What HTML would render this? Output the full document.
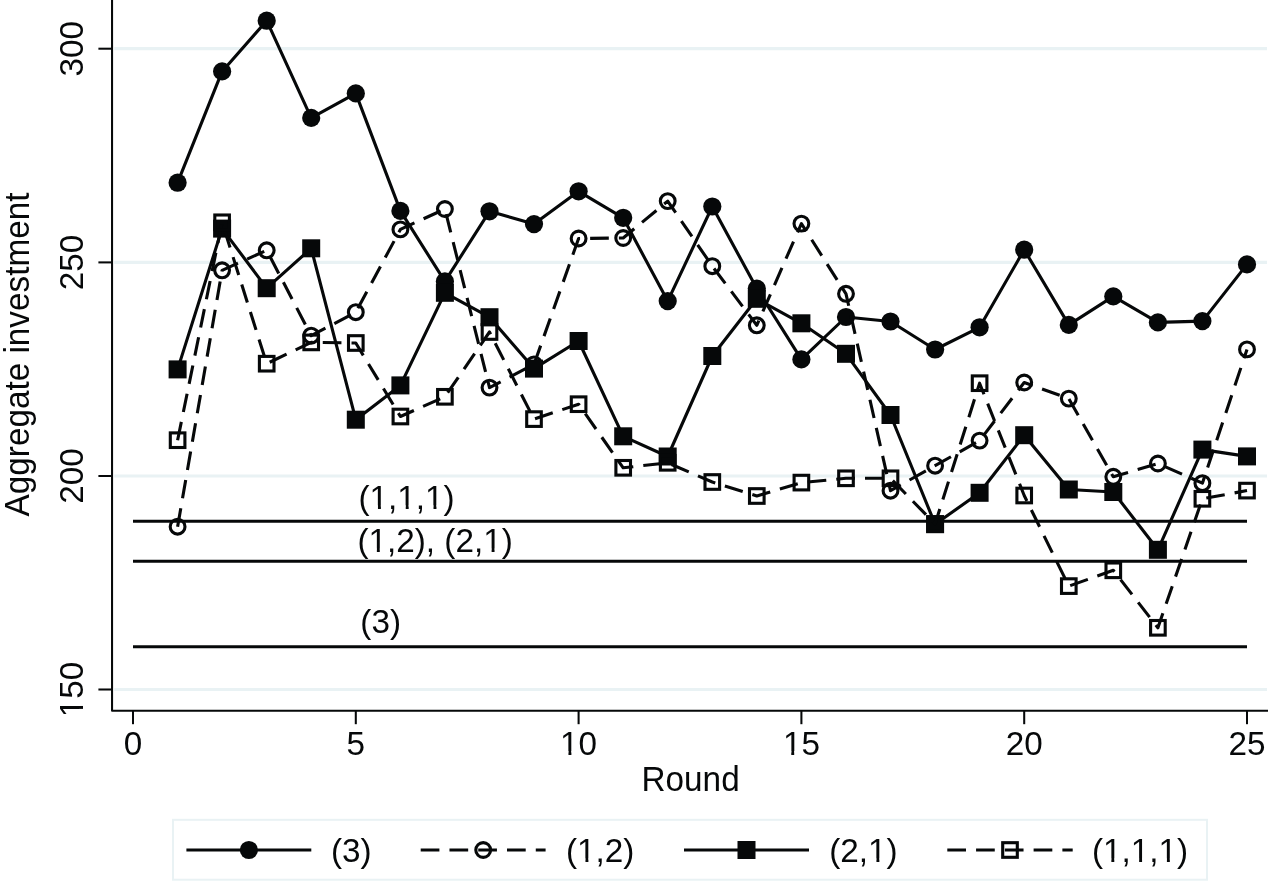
<!DOCTYPE html>
<html><head><meta charset="utf-8"><title>Aggregate investment by round</title>
<style>html,body{margin:0;padding:0;background:#fff}svg{display:block}</style></head>
<body>
<svg width="1268" height="881" viewBox="0 0 1268 881" font-family="'Liberation Sans', Arial, Helvetica, sans-serif" font-size="33.3" fill="#060809">
<rect width="1268" height="881" fill="#fff"/>
<line x1="114.2" y1="48.7" x2="1267" y2="48.7" stroke="#e9f2f4" stroke-width="3.2"/>
<line x1="114.2" y1="262.4" x2="1267" y2="262.4" stroke="#e9f2f4" stroke-width="3.2"/>
<line x1="114.2" y1="476.0" x2="1267" y2="476.0" stroke="#e9f2f4" stroke-width="3.2"/>
<line x1="114.2" y1="689.5" x2="1267" y2="689.5" stroke="#e9f2f4" stroke-width="3.2"/>
<line x1="133" y1="521.2" x2="1247" y2="521.2" stroke="#060809" stroke-width="3.1"/>
<line x1="133" y1="561.3" x2="1247" y2="561.3" stroke="#060809" stroke-width="3.1"/>
<line x1="133" y1="646.7" x2="1247" y2="646.7" stroke="#060809" stroke-width="3.1"/>
<polyline points="177.6,182.7 222.1,71.4 266.7,20.7 311.2,117.9 355.8,93.4 400.4,210.9 444.9,281.4 489.5,211.3 534.0,224.1 578.6,191.3 623.2,217.8 667.7,301.1 712.3,206.5 756.8,288.6 801.4,359.4 846.0,317 890.5,321.5 935.1,349.5 979.6,327.3 1024.2,249.7 1068.8,324.9 1113.3,296.4 1157.9,322.4 1202.4,321.1 1247.0,264.4" fill="none" stroke="#060809" stroke-width="3.1" stroke-linejoin="round"/>
<circle cx="177.6" cy="182.7" r="9.1"/>
<circle cx="222.1" cy="71.4" r="9.1"/>
<circle cx="266.7" cy="20.7" r="9.1"/>
<circle cx="311.2" cy="117.9" r="9.1"/>
<circle cx="355.8" cy="93.4" r="9.1"/>
<circle cx="400.4" cy="210.9" r="9.1"/>
<circle cx="444.9" cy="281.4" r="9.1"/>
<circle cx="489.5" cy="211.3" r="9.1"/>
<circle cx="534.0" cy="224.1" r="9.1"/>
<circle cx="578.6" cy="191.3" r="9.1"/>
<circle cx="623.2" cy="217.8" r="9.1"/>
<circle cx="667.7" cy="301.1" r="9.1"/>
<circle cx="712.3" cy="206.5" r="9.1"/>
<circle cx="756.8" cy="288.6" r="9.1"/>
<circle cx="801.4" cy="359.4" r="9.1"/>
<circle cx="846.0" cy="317" r="9.1"/>
<circle cx="890.5" cy="321.5" r="9.1"/>
<circle cx="935.1" cy="349.5" r="9.1"/>
<circle cx="979.6" cy="327.3" r="9.1"/>
<circle cx="1024.2" cy="249.7" r="9.1"/>
<circle cx="1068.8" cy="324.9" r="9.1"/>
<circle cx="1113.3" cy="296.4" r="9.1"/>
<circle cx="1157.9" cy="322.4" r="9.1"/>
<circle cx="1202.4" cy="321.1" r="9.1"/>
<circle cx="1247.0" cy="264.4" r="9.1"/>
<polyline points="177.6,526.7 222.1,270.3 266.7,250.3 311.2,335.7 355.8,312.2 400.4,229.4 444.9,209 489.5,387.6 534.0,364.4 578.6,238.5 623.2,238 667.7,201.1 712.3,266.2 756.8,325.3 801.4,223.6 846.0,293.8 890.5,490.7 935.1,465.7 979.6,440.6 1024.2,382.5 1068.8,398.6 1113.3,476.8 1157.9,463.5 1202.4,483.2 1247.0,349.4" fill="none" stroke="#060809" stroke-width="3.1" stroke-dasharray="18.7 10.07" stroke-linejoin="round"/>
<circle cx="177.6" cy="526.7" r="7.4" fill="none" stroke="#060809" stroke-width="3.1"/>
<circle cx="222.1" cy="270.3" r="7.4" fill="none" stroke="#060809" stroke-width="3.1"/>
<circle cx="266.7" cy="250.3" r="7.4" fill="none" stroke="#060809" stroke-width="3.1"/>
<circle cx="311.2" cy="335.7" r="7.4" fill="none" stroke="#060809" stroke-width="3.1"/>
<circle cx="355.8" cy="312.2" r="7.4" fill="none" stroke="#060809" stroke-width="3.1"/>
<circle cx="400.4" cy="229.4" r="7.4" fill="none" stroke="#060809" stroke-width="3.1"/>
<circle cx="444.9" cy="209" r="7.4" fill="none" stroke="#060809" stroke-width="3.1"/>
<circle cx="489.5" cy="387.6" r="7.4" fill="none" stroke="#060809" stroke-width="3.1"/>
<circle cx="534.0" cy="364.4" r="7.4" fill="none" stroke="#060809" stroke-width="3.1"/>
<circle cx="578.6" cy="238.5" r="7.4" fill="none" stroke="#060809" stroke-width="3.1"/>
<circle cx="623.2" cy="238" r="7.4" fill="none" stroke="#060809" stroke-width="3.1"/>
<circle cx="667.7" cy="201.1" r="7.4" fill="none" stroke="#060809" stroke-width="3.1"/>
<circle cx="712.3" cy="266.2" r="7.4" fill="none" stroke="#060809" stroke-width="3.1"/>
<circle cx="756.8" cy="325.3" r="7.4" fill="none" stroke="#060809" stroke-width="3.1"/>
<circle cx="801.4" cy="223.6" r="7.4" fill="none" stroke="#060809" stroke-width="3.1"/>
<circle cx="846.0" cy="293.8" r="7.4" fill="none" stroke="#060809" stroke-width="3.1"/>
<circle cx="890.5" cy="490.7" r="7.4" fill="none" stroke="#060809" stroke-width="3.1"/>
<circle cx="935.1" cy="465.7" r="7.4" fill="none" stroke="#060809" stroke-width="3.1"/>
<circle cx="979.6" cy="440.6" r="7.4" fill="none" stroke="#060809" stroke-width="3.1"/>
<circle cx="1024.2" cy="382.5" r="7.4" fill="none" stroke="#060809" stroke-width="3.1"/>
<circle cx="1068.8" cy="398.6" r="7.4" fill="none" stroke="#060809" stroke-width="3.1"/>
<circle cx="1113.3" cy="476.8" r="7.4" fill="none" stroke="#060809" stroke-width="3.1"/>
<circle cx="1157.9" cy="463.5" r="7.4" fill="none" stroke="#060809" stroke-width="3.1"/>
<circle cx="1202.4" cy="483.2" r="7.4" fill="none" stroke="#060809" stroke-width="3.1"/>
<circle cx="1247.0" cy="349.4" r="7.4" fill="none" stroke="#060809" stroke-width="3.1"/>
<polyline points="177.6,369.4 222.1,228.6 266.7,288.2 311.2,248.3 355.8,419.7 400.4,385.4 444.9,292.8 489.5,317.2 534.0,368.6 578.6,341 623.2,436.3 667.7,456.5 712.3,356 756.8,298.8 801.4,323.3 846.0,353.8 890.5,415 935.1,524.2 979.6,492.8 1024.2,435.2 1068.8,489.5 1113.3,492 1157.9,549.8 1202.4,449.6 1247.0,456.4" fill="none" stroke="#060809" stroke-width="3.1" stroke-linejoin="round"/>
<rect x="168.6" y="360.4" width="18" height="18"/>
<rect x="213.1" y="219.6" width="18" height="18"/>
<rect x="257.7" y="279.2" width="18" height="18"/>
<rect x="302.2" y="239.3" width="18" height="18"/>
<rect x="346.8" y="410.7" width="18" height="18"/>
<rect x="391.4" y="376.4" width="18" height="18"/>
<rect x="435.9" y="283.8" width="18" height="18"/>
<rect x="480.5" y="308.2" width="18" height="18"/>
<rect x="525.0" y="359.6" width="18" height="18"/>
<rect x="569.6" y="332.0" width="18" height="18"/>
<rect x="614.2" y="427.3" width="18" height="18"/>
<rect x="658.7" y="447.5" width="18" height="18"/>
<rect x="703.3" y="347.0" width="18" height="18"/>
<rect x="747.8" y="289.8" width="18" height="18"/>
<rect x="792.4" y="314.3" width="18" height="18"/>
<rect x="837.0" y="344.8" width="18" height="18"/>
<rect x="881.5" y="406.0" width="18" height="18"/>
<rect x="926.1" y="515.2" width="18" height="18"/>
<rect x="970.6" y="483.8" width="18" height="18"/>
<rect x="1015.2" y="426.2" width="18" height="18"/>
<rect x="1059.8" y="480.5" width="18" height="18"/>
<rect x="1104.3" y="483.0" width="18" height="18"/>
<rect x="1148.9" y="540.8" width="18" height="18"/>
<rect x="1193.4" y="440.6" width="18" height="18"/>
<rect x="1238.0" y="447.4" width="18" height="18"/>
<polyline points="177.6,440.2 222.1,222.3 266.7,363.7 311.2,342.4 355.8,343.0 400.4,416.5 444.9,396.8 489.5,332 534.0,419.1 578.6,404.2 623.2,467.8 667.7,462.8 712.3,482 756.8,496 801.4,482.6 846.0,478.3 890.5,478.3 935.1,524 979.6,383.2 1024.2,495.5 1068.8,586.1 1113.3,570.3 1157.9,627.8 1202.4,498.8 1247.0,490.6" fill="none" stroke="#060809" stroke-width="3.1" stroke-dasharray="18.7 10.07" stroke-linejoin="round"/>
<rect x="170.3" y="432.9" width="14.6" height="14.6" fill="none" stroke="#060809" stroke-width="3.1"/>
<rect x="214.8" y="215.0" width="14.6" height="14.6" fill="none" stroke="#060809" stroke-width="3.1"/>
<rect x="259.4" y="356.4" width="14.6" height="14.6" fill="none" stroke="#060809" stroke-width="3.1"/>
<rect x="303.9" y="335.1" width="14.6" height="14.6" fill="none" stroke="#060809" stroke-width="3.1"/>
<rect x="348.5" y="335.7" width="14.6" height="14.6" fill="none" stroke="#060809" stroke-width="3.1"/>
<rect x="393.1" y="409.2" width="14.6" height="14.6" fill="none" stroke="#060809" stroke-width="3.1"/>
<rect x="437.6" y="389.5" width="14.6" height="14.6" fill="none" stroke="#060809" stroke-width="3.1"/>
<rect x="482.2" y="324.7" width="14.6" height="14.6" fill="none" stroke="#060809" stroke-width="3.1"/>
<rect x="526.7" y="411.8" width="14.6" height="14.6" fill="none" stroke="#060809" stroke-width="3.1"/>
<rect x="571.3" y="396.9" width="14.6" height="14.6" fill="none" stroke="#060809" stroke-width="3.1"/>
<rect x="615.9" y="460.5" width="14.6" height="14.6" fill="none" stroke="#060809" stroke-width="3.1"/>
<rect x="660.4" y="455.5" width="14.6" height="14.6" fill="none" stroke="#060809" stroke-width="3.1"/>
<rect x="705.0" y="474.7" width="14.6" height="14.6" fill="none" stroke="#060809" stroke-width="3.1"/>
<rect x="749.5" y="488.7" width="14.6" height="14.6" fill="none" stroke="#060809" stroke-width="3.1"/>
<rect x="794.1" y="475.3" width="14.6" height="14.6" fill="none" stroke="#060809" stroke-width="3.1"/>
<rect x="838.7" y="471.0" width="14.6" height="14.6" fill="none" stroke="#060809" stroke-width="3.1"/>
<rect x="883.2" y="471.0" width="14.6" height="14.6" fill="none" stroke="#060809" stroke-width="3.1"/>
<rect x="927.8" y="516.7" width="14.6" height="14.6" fill="none" stroke="#060809" stroke-width="3.1"/>
<rect x="972.3" y="375.9" width="14.6" height="14.6" fill="none" stroke="#060809" stroke-width="3.1"/>
<rect x="1016.9" y="488.2" width="14.6" height="14.6" fill="none" stroke="#060809" stroke-width="3.1"/>
<rect x="1061.5" y="578.8" width="14.6" height="14.6" fill="none" stroke="#060809" stroke-width="3.1"/>
<rect x="1106.0" y="563.0" width="14.6" height="14.6" fill="none" stroke="#060809" stroke-width="3.1"/>
<rect x="1150.6" y="620.5" width="14.6" height="14.6" fill="none" stroke="#060809" stroke-width="3.1"/>
<rect x="1195.1" y="491.5" width="14.6" height="14.6" fill="none" stroke="#060809" stroke-width="3.1"/>
<rect x="1239.7" y="483.3" width="14.6" height="14.6" fill="none" stroke="#060809" stroke-width="3.1"/>
<path d="M112.05,-5 L112.05,710.7 L1273,710.7" fill="none" stroke="#060809" stroke-width="2.05" stroke-linejoin="round"/>
<line x1="98.4" y1="48.7" x2="112.05" y2="48.7" stroke="#060809" stroke-width="2.05"/>
<line x1="98.4" y1="262.4" x2="112.05" y2="262.4" stroke="#060809" stroke-width="2.05"/>
<line x1="98.4" y1="476.0" x2="112.05" y2="476.0" stroke="#060809" stroke-width="2.05"/>
<line x1="98.4" y1="689.5" x2="112.05" y2="689.5" stroke="#060809" stroke-width="2.05"/>
<line x1="133.0" y1="710.7" x2="133.0" y2="724.2" stroke="#060809" stroke-width="2.05"/>
<text transform="translate(133.0 754.5) scale(1 1.025)" text-anchor="middle">0</text>
<line x1="355.8" y1="710.7" x2="355.8" y2="724.2" stroke="#060809" stroke-width="2.05"/>
<text transform="translate(355.8 754.5) scale(1 1.025)" text-anchor="middle">5</text>
<line x1="578.6" y1="710.7" x2="578.6" y2="724.2" stroke="#060809" stroke-width="2.05"/>
<text transform="translate(578.6 754.5) scale(1 1.025)" text-anchor="middle">10</text><g transform="translate(578.6 754.5) scale(1 1.025)" fill="#fff"><rect x="-16.85" y="-3.33" width="6.71" height="4.00"/><rect x="-7.21" y="-3.33" width="6.34" height="4.00"/></g>
<line x1="801.4" y1="710.7" x2="801.4" y2="724.2" stroke="#060809" stroke-width="2.05"/>
<text transform="translate(801.4 754.5) scale(1 1.025)" text-anchor="middle">15</text><g transform="translate(801.4 754.5) scale(1 1.025)" fill="#fff"><rect x="-16.85" y="-3.33" width="6.71" height="4.00"/><rect x="-7.21" y="-3.33" width="6.34" height="4.00"/></g>
<line x1="1024.2" y1="710.7" x2="1024.2" y2="724.2" stroke="#060809" stroke-width="2.05"/>
<text transform="translate(1024.2 754.5) scale(1 1.025)" text-anchor="middle">20</text>
<line x1="1247.0" y1="710.7" x2="1247.0" y2="724.2" stroke="#060809" stroke-width="2.05"/>
<text transform="translate(1247.0 754.5) scale(1 1.025)" text-anchor="middle">25</text>
<text transform="translate(82.6 48.7) rotate(-90) scale(1 1.025)" text-anchor="middle">300</text>
<text transform="translate(82.6 262.4) rotate(-90) scale(1 1.025)" text-anchor="middle">250</text>
<text transform="translate(82.6 476.0) rotate(-90) scale(1 1.025)" text-anchor="middle">200</text>
<text transform="translate(82.6 689.5) rotate(-90) scale(1 1.025)" text-anchor="middle">150</text><g transform="translate(82.6 689.5) rotate(-90) scale(1 1.025)" fill="#fff"><rect x="-26.11" y="-3.33" width="6.71" height="4.00"/><rect x="-16.47" y="-3.33" width="6.34" height="4.00"/></g>
<text transform="translate(29.2 354.5) rotate(-90) scale(1 1.035)" text-anchor="middle">Aggregate investment</text>
<text transform="translate(690.6 790.9) scale(1 1.035)" text-anchor="middle">Round</text>
<text transform="translate(358.5 508.8) scale(1 1.025)" text-anchor="start">(1,1,1)</text><g transform="translate(358.5 508.8) scale(1 1.025)" fill="#fff"><rect x="12.75" y="-3.33" width="6.71" height="4.00"/><rect x="22.39" y="-3.33" width="6.34" height="4.00"/><rect x="40.53" y="-3.33" width="6.71" height="4.00"/><rect x="50.17" y="-3.33" width="6.34" height="4.00"/><rect x="68.30" y="-3.33" width="6.71" height="4.00"/><rect x="77.94" y="-3.33" width="6.34" height="4.00"/></g>
<text transform="translate(357.4 552) scale(1 1.025)" text-anchor="start">(1,2), (2,1)</text><g transform="translate(357.4 552) scale(1 1.025)" fill="#fff"><rect x="12.75" y="-3.33" width="6.71" height="4.00"/><rect x="22.39" y="-3.33" width="6.34" height="4.00"/><rect x="127.50" y="-3.33" width="6.71" height="4.00"/><rect x="137.14" y="-3.33" width="6.34" height="4.00"/></g>
<text transform="translate(360.3 632.9) scale(1 1.025)" text-anchor="start">(3)</text>
<rect x="173" y="819.8" width="1034" height="59.9" fill="#fff" stroke="#e9f2f4" stroke-width="2"/>
<line x1="186.4" y1="850.0" x2="311.3" y2="850.0" stroke="#060809" stroke-width="3.1"/>
<circle cx="248.9" cy="850.0" r="9.1"/>
<text transform="translate(331.0 861.9) scale(1 1.025)" text-anchor="start">(3)</text>
<line x1="420.7" y1="850.0" x2="545.6" y2="850.0" stroke="#060809" stroke-width="3.1" stroke-dasharray="18.7 10.07" stroke-linejoin="round"/>
<circle cx="483.2" cy="850.0" r="7.4" fill="none" stroke="#060809" stroke-width="3.1"/>
<text transform="translate(566.0 861.9) scale(1 1.025)" text-anchor="start">(1,2)</text><g transform="translate(566.0 861.9) scale(1 1.025)" fill="#fff"><rect x="12.75" y="-3.33" width="6.71" height="4.00"/><rect x="22.39" y="-3.33" width="6.34" height="4.00"/></g>
<line x1="684" y1="850.0" x2="809" y2="850.0" stroke="#060809" stroke-width="3.1"/>
<rect x="737.5" y="841.0" width="18" height="18"/>
<text transform="translate(829.2 861.9) scale(1 1.025)" text-anchor="start">(2,1)</text><g transform="translate(829.2 861.9) scale(1 1.025)" fill="#fff"><rect x="40.53" y="-3.33" width="6.71" height="4.00"/><rect x="50.17" y="-3.33" width="6.34" height="4.00"/></g>
<line x1="947.3" y1="850.0" x2="1072.7" y2="850.0" stroke="#060809" stroke-width="3.1" stroke-dasharray="18.7 10.07" stroke-linejoin="round"/>
<rect x="1002.7" y="842.7" width="14.6" height="14.6" fill="none" stroke="#060809" stroke-width="3.1"/>
<text transform="translate(1091.9 861.9) scale(1 1.025)" text-anchor="start">(1,1,1)</text><g transform="translate(1091.9 861.9) scale(1 1.025)" fill="#fff"><rect x="12.75" y="-3.33" width="6.71" height="4.00"/><rect x="22.39" y="-3.33" width="6.34" height="4.00"/><rect x="40.53" y="-3.33" width="6.71" height="4.00"/><rect x="50.17" y="-3.33" width="6.34" height="4.00"/><rect x="68.30" y="-3.33" width="6.71" height="4.00"/><rect x="77.94" y="-3.33" width="6.34" height="4.00"/></g>
</svg>
</body></html>
